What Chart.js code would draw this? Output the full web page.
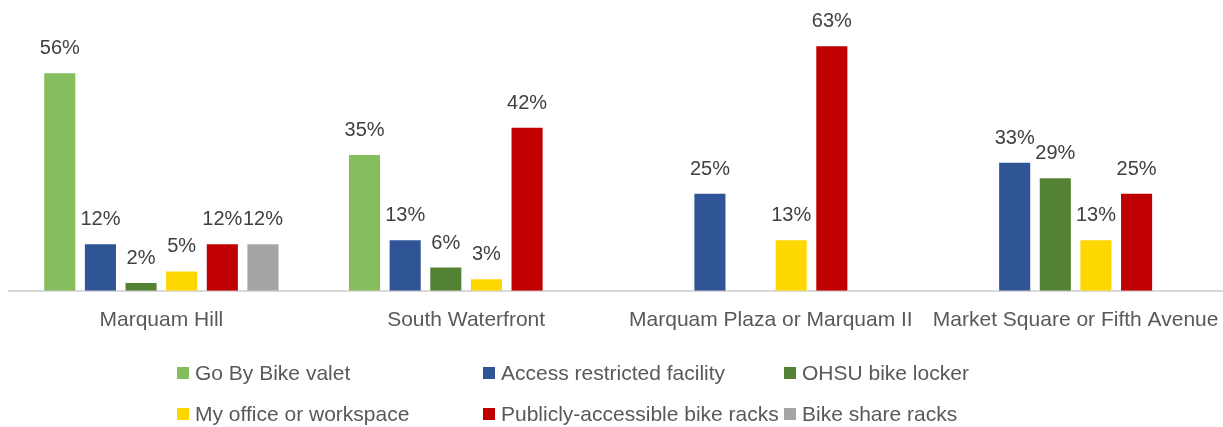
<!DOCTYPE html>
<html lang="en">
<head>
<meta charset="UTF-8">
<title>Bike parking by campus</title>
<script src="https://cdn.jsdelivr.net/npm/chart.js"></script>
<style>
  html, body { margin: 0; padding: 0; background: #fff; overflow: hidden; }
  #wrap { position: relative; width: 1223px; height: 427px; overflow: hidden; }
  #legend {
    position: absolute; left: 177px; top: 360px;
    display: grid; grid-template-columns: 306px 301px auto;
    row-gap: 15px;
    font-family: "Liberation Sans", Arial, sans-serif; font-size: 21px; color: #595959;
  }
  #legend .item { display: flex; align-items: center; height: 26px; white-space: nowrap; }
  #legend .box { width: 12px; height: 12px; margin-right: 6px; flex: none; }
</style>
</head>
<body>
<div id="wrap">
  <!-- the plot runs a few pixels past the right edge, like the original -->
  <canvas id="chart" width="1228" height="427"></canvas>
  <div id="legend"></div>
</div>
<script>
// categories (locations)
const categories = ['Marquam Hill', 'South Waterfront', 'Marquam Plaza or Marquam II', 'Market Square or Fifth Avenue'];

// series names and colours
const seriesNames = ['Go By Bike valet', 'Access restricted facility', 'OHSU bike locker',
                     'My office or workspace', 'Publicly-accessible bike racks', 'Bike share racks'];
const seriesColors = ['#86BD5E', '#2F5597', '#548235', '#FFD700', '#C00000', '#A5A5A5'];

// values in percent, null = no bar
const goByBike     = [56, 35, null, null];
const accessRestr  = [12, 13, 25, 33];
const ohsuLocker   = [2, 6, null, 29];
const myOffice     = [5, 3, 13, 13];
const publicRacks  = [12, 42, 63, 25];
const bikeShare    = [12, null, null, null];

const seriesValues = [goByBike, accessRestr, ohsuLocker, myOffice, publicRacks, bikeShare];

// draws the value labels above each bar
const valueLabels = {
  id: 'valueLabels',
  afterDatasetsDraw(chart) {
    const ctx = chart.ctx;
    ctx.save();
    ctx.font = '20px "Liberation Sans", Arial, sans-serif';
    ctx.fillStyle = '#404040';
    ctx.textAlign = 'center';
    ctx.textBaseline = 'alphabetic';
    chart.data.datasets.forEach((ds, i) => {
      const meta = chart.getDatasetMeta(i);
      meta.data.forEach((bar, j) => {
        const v = ds.data[j];
        if (v === null || v === undefined) return;
        ctx.fillText(v + '%', bar.x, bar.y - 19);
      });
    });
    ctx.restore();
  }
};

new Chart(document.getElementById('chart'), {
  type: 'bar',
  data: {
    labels: categories,
    datasets: seriesNames.map((name, i) => ({
      label: name,
      data: seriesValues[i],
      backgroundColor: seriesColors[i],
      categoryPercentage: 0.8,
      barPercentage: 0.765
    }))
  },
  options: {
    responsive: false,
    animation: false,
    layout: { padding: { left: 9, right: 0, top: 19, bottom: 85 } },
    plugins: {
      legend: { display: false },
      tooltip: { enabled: false }
    },
    scales: {
      x: {
        grid: { display: false },
        border: { display: true, color: '#D9D9D9', width: 2 },
        ticks: {
          color: '#595959',
          padding: 9,
          font: { family: '"Liberation Sans", Arial, sans-serif', size: 21 },
          maxRotation: 0, autoSkip: false
        }
      },
      y: {
        display: false,
        min: 0,
        max: 70
      }
    }
  },
  plugins: [valueLabels]
});

// legend, two rows of three
const legend = document.getElementById('legend');
seriesNames.forEach((name, i) => {
  const item = document.createElement('div');
  item.className = 'item';
  item.innerHTML = '<span class="box" style="background:' + seriesColors[i] + '"></span>' + name;
  legend.appendChild(item);
});
</script>
</body>
</html>
